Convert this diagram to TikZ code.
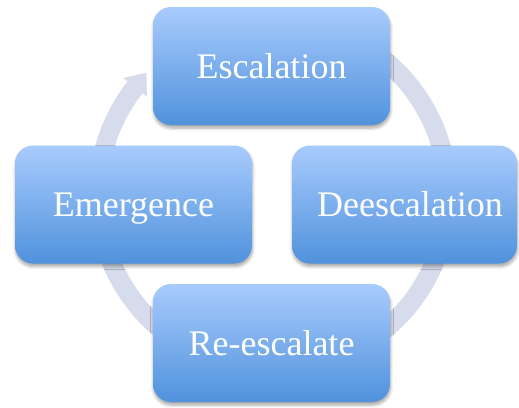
\documentclass[tikz,border=0pt]{standalone}
\usepackage{fontspec}
\setmainfont{Liberation Serif}
\usetikzlibrary{calc,shadows.blur}
\definecolor{ringcol}{RGB}{214,220,236}
\definecolor{boxtop}{RGB}{168,203,253}
\definecolor{boxbot}{RGB}{80,146,220}
\begin{document}
\begin{tikzpicture}[x=1pt,y=-1pt,
  stage/.style={rounded corners=18pt, minimum width=237pt, minimum height=118pt,
    top color=boxtop, bottom color=boxbot, draw=none, text=white,
    font=\fontsize{36}{40}\selectfont, text height=24pt, text depth=0pt, inner sep=0pt,
    blur shadow={shadow xshift=0.5pt, shadow yshift=-3pt, shadow blur steps=6,
      shadow opacity=35, shadow blur radius=3pt}},
  ring/.style={draw=ringcol, line width=19pt}]
\useasboundingbox (0,0) rectangle (519,407);
\coordinate (C) at (273,195);
\draw[ring] ($(C)+(240:175)$) arc[start angle=240, end angle=579, radius=175];
\fill[ringcol] ($(C)+(218:190)$) -- ($(C)+(224:176)$) -- ($(C)+(218:160)$) -- cycle;
\node[stage] (esc) at (271.5,66) {Escalation};
\node[stage] (emer) at (133.5,204.5) {Emergence};
\node[stage, minimum width=225pt] (dees) at (404.5,204.5) {\hspace*{11pt}Deescalation};
\node[stage] (rees) at (271.5,343) {Re-escalate};
\end{tikzpicture}
\end{document}
